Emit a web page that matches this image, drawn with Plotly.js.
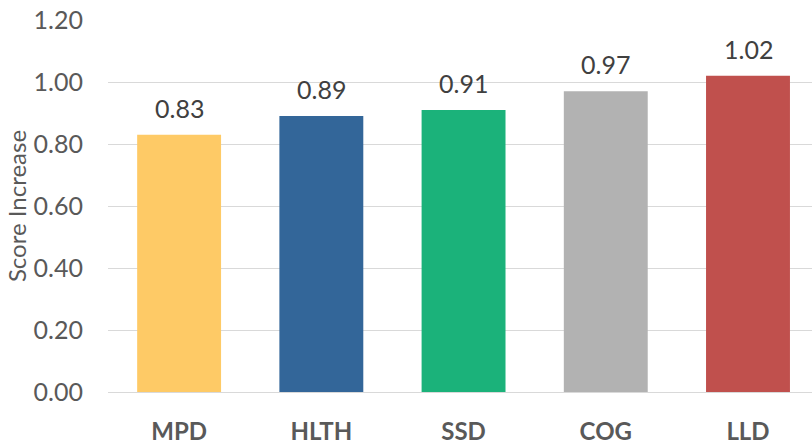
<!DOCTYPE html>
<html>
<head>
<meta charset="utf-8">
<script src="https://cdn.plot.ly/plotly-3.0.1.min.js"></script>
<style>html,body{margin:0;padding:0;background:#fff}#chart{width:812px;height:447px}</style>
</head>
<body>
<div id="chart"></div>
<script>
const categories = ["MPD", "HLTH", "SSD", "COG", "LLD"];
const values = [0.83, 0.89, 0.91, 0.97, 1.02];
const labels = ["0.83", "0.89", "0.91", "0.97", "1.02"];
const colors = ["#FECA66", "#336699", "#1BB27A", "#B2B2B2", "#C0504D"];
const yTicks = [0, 0.2, 0.4, 0.6, 0.8, 1.0, 1.2];
const yTickText = ["0.00", "0.20", "0.40", "0.60", "0.80", "1.00", "1.20"];

const font = "Lato, 'Open Sans', sans-serif";

const trace = {
  type: "bar",
  x: categories,
  y: values,
  marker: {color: colors},
  width: 0.59,
  hoverinfo: "none"
};

const annotations = categories.map((c, i) => ({
  x: c, y: values[i], text: labels[i], showarrow: false,
  yanchor: "bottom", yshift: 10,
  font: {family: font, size: 25, color: "#404040"}
}));

const layout = {
  width: 812, height: 447,
  margin: {l: 108, r: 0, t: 20, b: 55},
  paper_bgcolor: "#fff", plot_bgcolor: "#fff",
  showlegend: false,
  xaxis: {
    type: "category",
    range: [-0.5, 4.45],
    showgrid: false, zeroline: false,
    showline: true, linecolor: "#D9D9D9", linewidth: 1,
    ticks: "",
    ticklabelstandoff: 18,
    tickfont: {family: font, size: 24, color: "#595959", weight: "bold"}
  },
  yaxis: {
    range: [0, 1.2],
    tickvals: yTicks, ticktext: yTickText,
    showgrid: true, gridcolor: "#D9D9D9", gridwidth: 1,
    zeroline: false, showline: false, ticks: "",
    ticklabelstandoff: 24,
    tickfont: {family: font, size: 25, color: "#595959"},
    title: {text: "Score Increase", font: {family: font, size: 24, color: "#595959"}, standoff: 0}
  },
  annotations: annotations
};

Plotly.newPlot("chart", [trace], layout, {staticPlot: true});
</script>
</body>
</html>
